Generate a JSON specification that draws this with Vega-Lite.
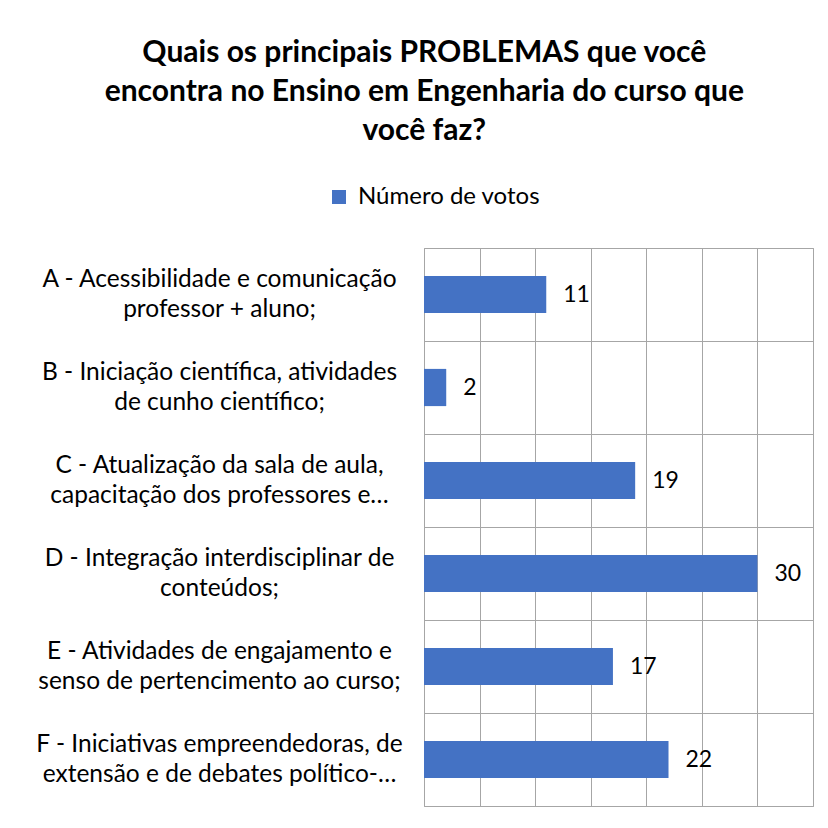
{
  "$schema": "https://vega.github.io/schema/vega-lite/v6.json",
  "autosize": {"type": "none"},
  "width": 389,
  "height": 558,
  "padding": {"left": 424, "top": 248, "right": 15, "bottom": 22},
  "background": "white",
  "title": {
    "text": ["Quais os principais PROBLEMAS que você", "encontra no Ensino em Engenharia do curso que", "você faz?"],
    "font": "Lato",
    "fontSize": 30,
    "fontWeight": "bold",
    "color": "#000000",
    "lineHeight": 39,
    "anchor": "middle",
    "frame": "bounds",
    "offset": 39
  },
  "data": {
    "values": [
      {"categoria": "A - Acessibilidade e comunicação\nprofessor + aluno;", "votos": 11},
      {"categoria": "B - Iniciação científica, atividades\nde cunho científico;", "votos": 2},
      {"categoria": "C - Atualização da sala de aula,\ncapacitação dos professores e…", "votos": 19},
      {"categoria": "D - Integração interdisciplinar de\nconteúdos;", "votos": 30},
      {"categoria": "E - Atividades de engajamento e\nsenso de pertencimento ao curso;", "votos": 17},
      {"categoria": "F - Iniciativas empreendedoras, de\nextensão e de debates político-…", "votos": 22}
    ]
  },
  "encoding": {
    "y": {
      "field": "categoria",
      "type": "nominal",
      "sort": null,
      "scale": {"paddingInner": 0, "paddingOuter": 0},
      "axis": {
        "title": null,
        "domain": false,
        "ticks": false,
        "tickBand": "extent",
        "labelAlign": "center",
        "labelBaseline": "middle",
        "labelPadding": 205,
        "labelOffset": -15,
        "labelFont": "Lato",
        "labelFontSize": 24.5,
        "labelColor": "#000000",
        "labelLineHeight": 30,
        "labelLimit": 0,
        "grid": true,
        "gridColor": "#a6a6a6",
        "gridWidth": 1,
        "labelExpr": "isValid(datum.value) ? split(datum.value, '\\n') : ''"
      }
    },
    "x": {
      "field": "votos",
      "type": "quantitative",
      "scale": {"domain": [0, 35], "nice": false},
      "axis": {
        "title": null,
        "labels": false,
        "ticks": false,
        "domain": false,
        "grid": true,
        "gridColor": "#a6a6a6",
        "gridWidth": 1,
        "values": [0, 5, 10, 15, 20, 25, 30, 35]
      }
    }
  },
  "layer": [
    {
      "mark": {"type": "bar", "height": {"band": 0.4}},
      "encoding": {
        "color": {
          "datum": "Número de votos",
          "scale": {"range": ["#4472C4"]},
          "legend": {
            "title": null,
            "orient": "none",
            "legendX": -97,
            "legendY": -63,
            "symbolType": "square",
            "symbolSize": 196,
            "symbolStrokeWidth": 0,
            "labelFont": "Lato",
            "labelFontSize": 24,
            "labelColor": "#000000",
            "labelOffset": 7,
            "labelLimit": 0,
            "padding": 0
          }
        }
      }
    },
    {
      "mark": {"type": "text", "align": "left", "baseline": "middle", "dx": 17, "font": "Lato", "fontSize": 23, "color": "#000000"},
      "encoding": {"text": {"field": "votos", "type": "quantitative"}}
    }
  ],
  "config": {"view": {"stroke": "#a6a6a6", "strokeWidth": 1}}
}
